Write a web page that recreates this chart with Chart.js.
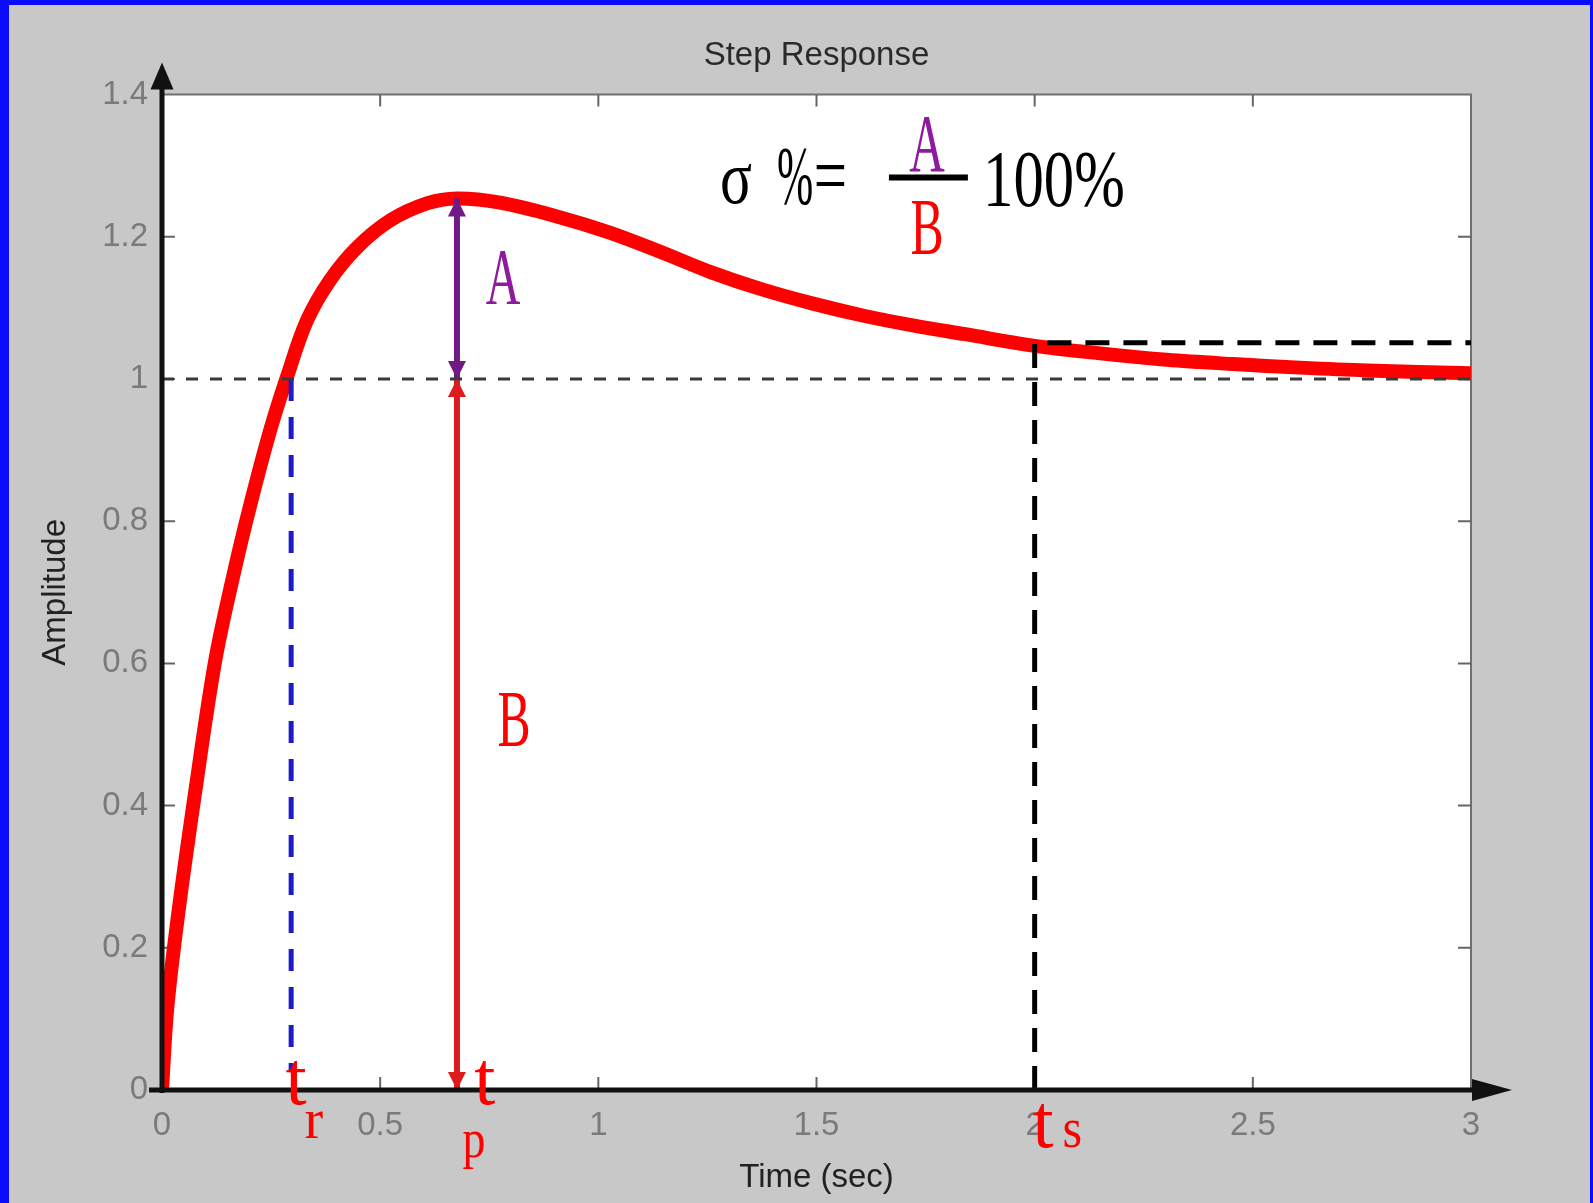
<!DOCTYPE html>
<html>
<head>
<meta charset="utf-8">
<title>Step Response</title>
<script src="https://cdn.jsdelivr.net/npm/chart.js@4.4.1/dist/chart.umd.min.js"></script>
<style>
  html, body { margin: 0; padding: 0; }
  body { width: 1593px; height: 1203px; background: #0a0aff; position: relative; overflow: hidden; }
  #panel { position: absolute; left: 9px; top: 5px; right: 3px; bottom: 0; background: #c8c8c8; }
  #box { position: absolute; left: 0; top: 0; width: 1593px; height: 1203px; }
</style>
</head>
<body>
<div id="panel"></div>
<div id="box"><canvas id="chart"></canvas></div>
<script>
// step response (time in sec, amplitude)
const timeSec = [0, 0.012, 0.037, 0.076, 0.122, 0.164, 0.202, 0.248, 0.286, 0.332, 0.385,
  0.447, 0.523, 0.607, 0.676, 0.775, 0.909, 1.026, 1.142, 1.259, 1.375, 1.492, 1.608,
  1.724, 1.841, 1.996, 2.150, 2.303, 2.455, 2.608, 2.762, 3.0];
const amplitude = [0, 0.115, 0.247, 0.419, 0.604, 0.725, 0.822, 0.928, 1.002, 1.082, 1.139,
  1.185, 1.223, 1.247, 1.254, 1.248, 1.228, 1.206, 1.179, 1.150, 1.126, 1.106, 1.089,
  1.075, 1.063, 1.047, 1.036, 1.027, 1.021, 1.016, 1.012, 1.008];

// tick labels
const xTicks = [0, 0.5, 1, 1.5, 2, 2.5, 3];
const yTicks = [0, 0.2, 0.4, 0.6, 0.8, 1, 1.2, 1.4];

// marker values
const finalValue = 1;
const riseTime = 0.296;
const peakTime = 0.676;
const peakValue = 1.254;
const settleTime = 2.0;
const bandValue = 1.051;

const PURPLE = '#701a86';
const PURPLE_TXT = '#8e1a9e';

// text notes placed in data units
const notes = [
  { text: 'A', t: 0.7815, a: 1.106, color: PURPLE_TXT, size: 80, sx: 0.6 },
  { text: 'B', t: 0.807, a: 0.4835, color: '#ff0000', size: 80, sx: 0.62 },
  { text: 'σ', t: 1.3155, a: 1.248, color: '#000', size: 76, sx: 0.78 },
  { text: '%', t: 1.4507, a: 1.248, color: '#000', size: 82, sx: 0.53 },
  { text: '=', t: 1.532, a: 1.248, color: '#000', size: 82, sx: 0.72 },
  { text: 'A', t: 1.7533, a: 1.2932, color: PURPLE_TXT, size: 82, sx: 0.6 },
  { text: 'B', t: 1.7533, a: 1.1765, color: '#ff0000', size: 80, sx: 0.62 },
  { text: '100%', t: 1.8816, a: 1.244, color: '#000', size: 80, sx: 0.76, align: 'left' },
  { text: 't', t: 0.307, a: -0.0197, color: '#ff0000', size: 76, sx: 1.0 },
  { text: 'r', t: 0.348, a: -0.0675, color: '#ff0000', size: 56, sx: 1.0 },
  { text: 't', t: 0.740, a: -0.0197, color: '#ff0000', size: 76, sx: 1.0 },
  { text: 'p', t: 0.715, a: -0.094, color: '#ff0000', size: 54, sx: 0.85 },
  { text: 't', t: 2.019, a: -0.080, color: '#ff0000', size: 76, sx: 1.0 },
  { text: 's', t: 2.086, a: -0.080, color: '#ff0000', size: 56, sx: 0.9 }
];
const fractionBar = { t1: 1.666, t2: 1.847, a: 1.2833 };

const SANS = '"Liberation Sans", Arial, Helvetica, sans-serif';
const SERIF = '"Liberation Serif", "Times New Roman", serif';

// white plot area, gray frame and inside ticks
const framePlugin = {
  id: 'frame',
  beforeDraw(chart) {
    const { ctx, chartArea: c } = chart;
    ctx.save();
    ctx.fillStyle = '#ffffff';
    ctx.fillRect(c.left, c.top, c.right - c.left, c.bottom - c.top);
    ctx.restore();
  },
  beforeDatasetsDraw(chart) {
    const { ctx, chartArea: c, scales } = chart;
    ctx.save();
    ctx.strokeStyle = '#707070';
    ctx.lineWidth = 2;
    ctx.beginPath();
    ctx.moveTo(c.left, c.top); ctx.lineTo(c.right, c.top); ctx.lineTo(c.right, c.bottom);
    ctx.stroke();
    ctx.strokeStyle = '#666';
    ctx.beginPath();
    xTicks.slice(1, -1).forEach(v => {
      const px = scales.x.getPixelForValue(v);
      ctx.moveTo(px, c.top); ctx.lineTo(px, c.top + 12);
      ctx.moveTo(px, c.bottom); ctx.lineTo(px, c.bottom - 13);
    });
    yTicks.slice(1, -1).forEach(v => {
      const py = scales.y.getPixelForValue(v);
      ctx.moveTo(c.left, py); ctx.lineTo(c.left + 13, py);
      ctx.moveTo(c.right, py); ctx.lineTo(c.right - 13, py);
    });
    ctx.stroke();
    ctx.restore();
  }
};

function head(ctx, tx, ty, dx, dy, len, half) {
  const bx = tx - dx * len, by = ty - dy * len;
  ctx.beginPath();
  ctx.moveTo(tx, ty);
  ctx.lineTo(bx - dy * half, by + dx * half);
  ctx.lineTo(bx + dy * half, by - dx * half);
  ctx.closePath();
  ctx.fill();
}

// arrowheads on the ends of datasets flagged with arrows: true, then the black axes
const arrowPlugin = {
  id: 'arrows',
  afterDatasetsDraw(chart) {
    const ctx = chart.ctx;
    ctx.save();
    chart.data.datasets.forEach((ds, i) => {
      if (!ds.arrows) return;
      const pts = chart.getDatasetMeta(i).data;
      const a = pts[0], b = pts[pts.length - 1];
      const L = Math.hypot(b.x - a.x, b.y - a.y);
      const dx = (b.x - a.x) / L, dy = (b.y - a.y) / L;
      ctx.fillStyle = ds.borderColor;
      head(ctx, a.x, a.y, -dx, -dy, 18, 9);
      head(ctx, b.x, b.y, dx, dy, 18, 9);
    });
    const { chartArea: c } = chart;
    ctx.strokeStyle = '#111';
    ctx.fillStyle = '#111';
    ctx.lineWidth = 5;
    ctx.beginPath();
    ctx.moveTo(c.left - 13, c.bottom); ctx.lineTo(c.right + 10, c.bottom);
    ctx.moveTo(c.left, c.bottom + 3); ctx.lineTo(c.left, c.top - 10);
    ctx.stroke();
    head(ctx, c.right + 41, c.bottom, 1, 0, 40, 11);
    head(ctx, c.left, c.top - 32, 0, -1, 27, 11.5);
    ctx.restore();
  }
};

// text notes and the fraction bar
const notePlugin = {
  id: 'notes',
  afterDraw(chart) {
    const { ctx, scales } = chart;
    ctx.save();
    ctx.textBaseline = 'alphabetic';
    notes.forEach(n => {
      const px = scales.x.getPixelForValue(n.t);
      const py = scales.y.getPixelForValue(n.a);
      ctx.save();
      ctx.translate(px, py);
      ctx.scale(n.sx, 1);
      ctx.font = n.size + 'px ' + SERIF;
      ctx.fillStyle = n.color;
      ctx.textAlign = n.align || 'center';
      ctx.fillText(n.text, 0, 0);
      ctx.restore();
    });
    ctx.strokeStyle = '#000';
    ctx.lineWidth = 6;
    ctx.beginPath();
    const by = scales.y.getPixelForValue(fractionBar.a);
    ctx.moveTo(scales.x.getPixelForValue(fractionBar.t1), by);
    ctx.lineTo(scales.x.getPixelForValue(fractionBar.t2), by);
    ctx.stroke();
    ctx.restore();
  }
};

const curve = timeSec.map((t, i) => ({ x: t, y: amplitude[i] }));
const tickText = v => String(Math.round(v * 10) / 10);

new Chart(document.getElementById('chart'), {
  type: 'line',
  data: {
    datasets: [
      { label: 'final value', data: [{ x: 0, y: finalValue }, { x: 3, y: finalValue }],
        borderColor: '#3a3a3a', borderWidth: 3, borderDash: [12, 12], pointRadius: 0 },
      { label: 'settling band', data: [{ x: settleTime, y: 0 }, { x: settleTime, y: bandValue }, { x: 3, y: bandValue }],
        borderColor: '#000', borderWidth: 5, borderDash: [24, 14], pointRadius: 0 },
      { label: 'rise time', data: [{ x: riseTime, y: finalValue }, { x: riseTime, y: 0.025 }],
        borderColor: '#1c1cc8', borderWidth: 5, borderDash: [22, 16], pointRadius: 0 },
      { label: 'A', data: [{ x: peakTime, y: peakValue }, { x: peakTime, y: finalValue }],
        borderColor: PURPLE, borderWidth: 6, pointRadius: 0, arrows: true },
      { label: 'B', data: [{ x: peakTime, y: finalValue }, { x: peakTime, y: 0 }],
        borderColor: '#dc1c1c', borderWidth: 6, pointRadius: 0, arrows: true },
      { label: 'response', data: curve, borderColor: '#ff0000', borderWidth: 14, pointRadius: 0,
        tension: 0.35, clip: 0 }
    ]
  },
  options: {
    responsive: true, maintainAspectRatio: false, animation: false,
    layout: { padding: { left: 0, top: 0, right: 122, bottom: 0 } },
    scales: {
      x: {
        type: 'linear', min: 0, max: 3,
        afterBuildTicks: s => { s.ticks = xTicks.map(v => ({ value: v })); },
        afterFit: s => { s.height = 113; },
        grid: { display: false, drawTicks: false },
        border: { display: false },
        ticks: { padding: 16, color: '#7a7a7a', font: { family: SANS, size: 33 }, maxRotation: 0, callback: tickText },
        title: { display: true, text: 'Time (sec)', color: '#222', font: { family: SANS, size: 33 },
          padding: { top: 0, bottom: 5 } }
      },
      y: {
        min: 0, max: 1.4,
        afterBuildTicks: s => { s.ticks = yTicks.map(v => ({ value: v })); },
        afterFit: s => { s.width = 162; },
        grid: { display: false, drawTicks: false },
        border: { display: false },
        ticks: { padding: 14, color: '#7a7a7a', font: { family: SANS, size: 33 }, callback: tickText },
        title: { display: true, text: 'Amplitude', color: '#222', font: { family: SANS, size: 33 },
          padding: { top: 36, bottom: 0 } }
      }
    },
    plugins: {
      legend: { display: false },
      tooltip: { enabled: false },
      title: { display: true, text: 'Step Response', fullSize: false, color: '#2a2a2a',
        font: { family: SANS, size: 33, weight: 'normal' }, padding: { top: 36, bottom: 19 } }
    }
  },
  plugins: [framePlugin, arrowPlugin, notePlugin]
});
</script>
</body>
</html>
